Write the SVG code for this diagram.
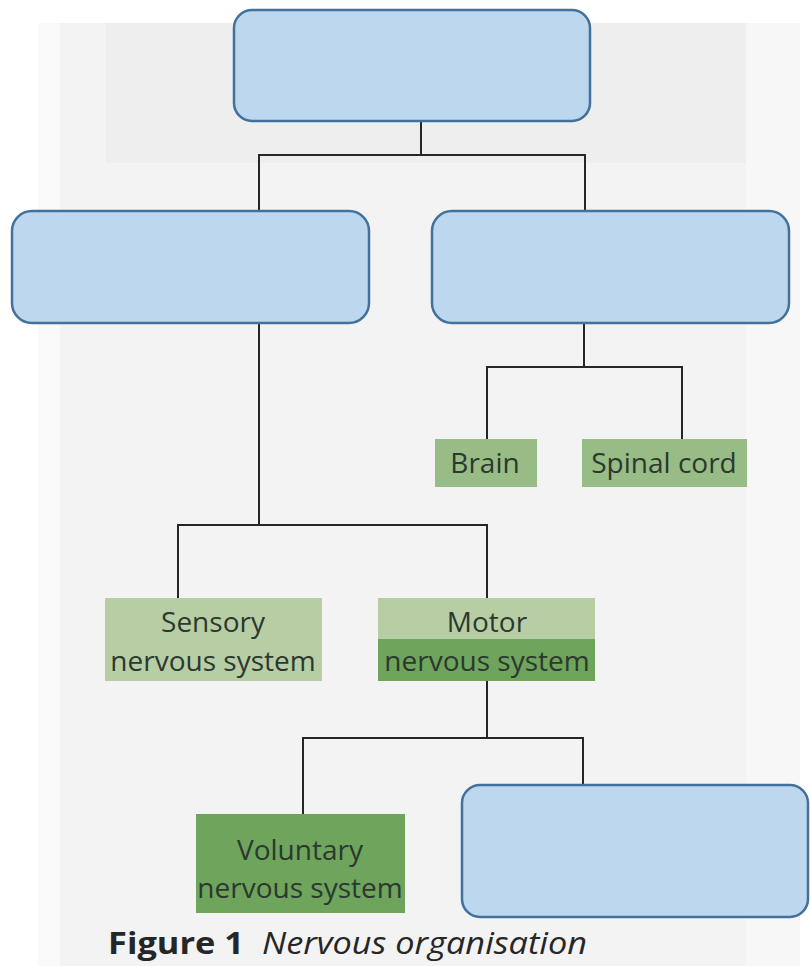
<svg xmlns="http://www.w3.org/2000/svg" width="810" height="966" viewBox="0 0 810 966">
  <style>
    .blue { fill: #bdd7ee; stroke: #41719c; stroke-width: 2.5; }
    .lbl { font-family: "Open Sans", "Noto Sans", sans-serif; font-size: 28px; fill: #2c3830; text-anchor: middle; }
    .conn { fill: none; stroke: #262626; stroke-width: 2; }
    .cap { font-family: "Open Sans", "Noto Sans", sans-serif; font-size: 31px; fill: #262626; }
  </style>
  <rect x="0" y="0" width="810" height="966" fill="#ffffff"/>
  <rect x="38" y="23" width="22" height="943" fill="#f9f9f9"/>
  <rect x="60" y="23" width="740" height="943" fill="#f3f3f3"/>
  <rect x="106" y="23" width="640" height="140" fill="#eeeeee"/>
  <rect x="746" y="23" width="54" height="943" fill="#f7f7f7"/>

  <g id="connectors">
    <path class="conn" d="M421 121 V155 M259 210 V155 H585 V210"/>
    <path class="conn" d="M259 323 V525 M178 598 V525 H487 V598"/>
    <path class="conn" d="M584 323 V367 M487 439 V367 H682 V439"/>
    <path class="conn" d="M487 681 V738 M303 814 V738 H583 V785"/>
  </g>

  <g id="top-box"><rect class="blue" x="234" y="10" width="356" height="111" rx="18"/></g>
  <g id="left-box"><rect class="blue" x="12" y="211" width="357" height="112" rx="20"/></g>
  <g id="right-box"><rect class="blue" x="432" y="211" width="357" height="112" rx="20"/></g>

  <g id="brain">
    <rect x="435" y="439" width="102" height="48" fill="#98bc85"/>
    <text class="lbl" x="485" y="473">Brain</text>
  </g>
  <g id="spinal-cord">
    <rect x="582" y="439" width="165" height="48" fill="#98bc85"/>
    <text class="lbl" x="664" y="473">Spinal cord</text>
  </g>

  <g id="sensory">
    <rect x="105" y="598" width="217" height="83" fill="#b7cea5"/>
    <text class="lbl" x="213" y="632">Sensory</text>
    <text class="lbl" x="213" y="671">nervous system</text>
  </g>
  <g id="motor">
    <rect x="378" y="598" width="217" height="41" fill="#b7cea5"/>
    <rect x="378" y="639" width="217" height="42" fill="#6ea45b"/>
    <text class="lbl" x="487" y="632">Motor</text>
    <text class="lbl" x="487" y="671">nervous system</text>
  </g>

  <g id="voluntary">
    <rect x="196" y="814" width="209" height="99" fill="#6ea45b"/>
    <text class="lbl" x="300" y="860">Voluntary</text>
    <text class="lbl" x="300" y="898">nervous system</text>
  </g>
  <g id="bottom-box"><rect class="blue" x="462" y="785" width="346" height="132" rx="18"/></g>

  <g id="caption">
    <text class="cap" x="108" y="954" font-weight="bold" textLength="136" lengthAdjust="spacingAndGlyphs">Figure 1</text>
    <text class="cap" x="262" y="954" font-style="italic" textLength="325" lengthAdjust="spacingAndGlyphs">Nervous organisation</text>
  </g>
</svg>
